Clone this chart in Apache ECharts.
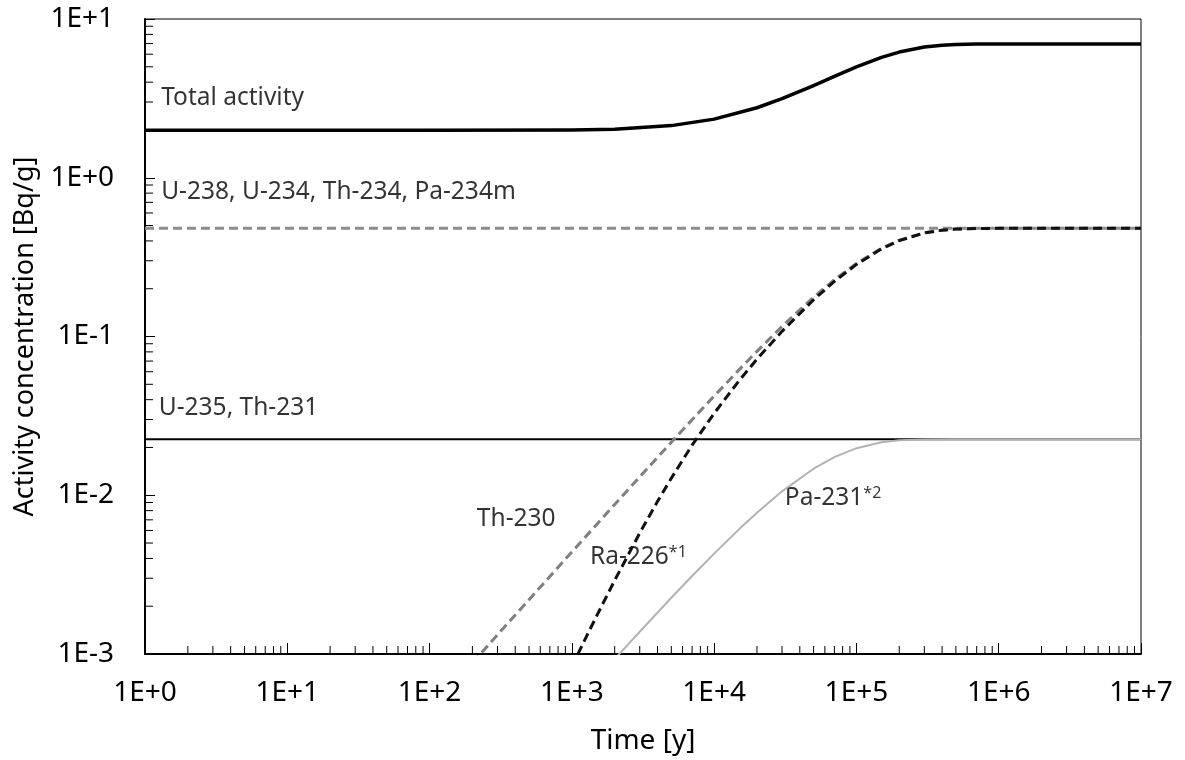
<!DOCTYPE html>
<html>
<head>
<meta charset="utf-8">
<script src="https://cdn.jsdelivr.net/npm/echarts@6/dist/echarts.min.js"></script>
<style>
  html, body { margin: 0; padding: 0; background: #fff; }
  #echarts { width: 1185px; height: 760px; }
</style>
</head>
<body>
<div id="echarts"></div>
<script>
// values (time in years, activity in Bq/g)
const totalTime = [1, 10, 100, 1000, 2000, 5000, 1e4, 2e4, 3e4, 5e4, 7e4, 1e5, 1.5e5, 2e5, 3e5, 4e5, 5e5, 7e5, 1e6, 1e7];
const totalAct  = [1.99, 1.99, 1.99, 2.0, 2.02, 2.13, 2.34, 2.76, 3.15, 3.81, 4.35, 4.99, 5.73, 6.19, 6.66, 6.84, 6.92, 6.96, 6.97, 6.97];

const u238Time = [1, 1e7];
const u238Act  = [0.48, 0.48];

const u235Time = [1, 1e7];
const u235Act  = [0.0225, 0.0225];

const th230Time = [200, 300, 500, 1000, 2000, 3000, 5000, 7000, 1e4, 1.5e4, 2e4, 3e4, 5e4, 7e4, 1e5, 1.5e5, 2e5, 3e5, 4e5, 5e5, 7e5, 1e6, 1e7];
const th230Act  = [0.00088, 0.00132, 0.0022, 0.00439, 0.00875, 0.01306, 0.02157, 0.02992, 0.04217, 0.06184, 0.08063, 0.1157, 0.1769, 0.2278, 0.2886, 0.3592, 0.4037, 0.4496, 0.4679, 0.4752, 0.4792, 0.48, 0.48];

const ra226Time = [1000, 1200, 1500, 2000, 3000, 4000, 5000, 7000, 1e4, 1.5e4, 2e4, 3e4, 5e4, 7e4, 1e5, 1.5e5, 2e5, 3e5, 4e5, 5e5, 7e5, 1e6, 1e7];
const ra226Act  = [0.00083, 0.00117, 0.00175, 0.00291, 0.00578, 0.00915, 0.0128, 0.0207, 0.0328, 0.0528, 0.072, 0.1078, 0.1703, 0.2224, 0.2845, 0.3565, 0.402, 0.449, 0.4676, 0.4751, 0.4792, 0.48, 0.48];

const pa231Time = [2000, 3000, 5000, 7000, 1e4, 1.5e4, 2e4, 3e4, 5e4, 7e4, 1e5, 1.5e5, 2e5, 3e5, 5e5, 1e7];
const pa231Act  = [0.00093, 0.00138, 0.00226, 0.0031, 0.00429, 0.00612, 0.00776, 0.01058, 0.01469, 0.01738, 0.01979, 0.02156, 0.02217, 0.02246, 0.0225, 0.0225];

const xTickLabels = ['1E+0', '1E+1', '1E+2', '1E+3', '1E+4', '1E+5', '1E+6', '1E+7'];
const yTickLabels = ['1E-3', '1E-2', '1E-1', '1E+0', '1E+1'];

// curve labels and where they sit (in data units)
const noteText = ['Total activity', 'U-238, U-234, Th-234, Pa-234m', 'U-235, Th-231', 'Th-230', 'Ra-226{sup|*1}', 'Pa-231{sup|*2}'];
const noteX    = [1.3, 1.3, 1.25, 215, 1340, 31400];
const noteY    = [3.2, 0.815, 0.0355, 0.0071, 0.0041, 0.0096];

const FONT = 'Noto Sans';

let pairs = function (xs, ys) {
    return xs.map((x, i) => [x, ys[i]]);
};

let curve = function (name, xs, ys, color, width, dash) {
    return {
        name: name,
        type: 'line',
        data: pairs(xs, ys),
        showSymbol: false,
        clip: true,
        silent: true,
        lineStyle: { color: color, width: width, type: dash || 'solid', cap: 'butt', join: 'round' }
    };
};

// minor ticks (2..9 within each decade) drawn inside the axes
let minorTicks = function (axis) {
    let data = [];
    let lo = axis === 'x' ? 0 : -3;
    let hi = axis === 'x' ? 7 : 1;
    for (let e = lo; e < hi; e++) {
        for (let m = 2; m <= 9; m++) {
            let v = m * Math.pow(10, e);
            data.push(axis === 'x' ? [v, 1e-3] : [1, v]);
        }
    }
    return {
        type: 'custom',
        silent: true,
        clip: false,
        z: 1,
        data: data,
        renderItem: function (params, api) {
            let p = api.coord([api.value(0), api.value(1)]);
            let shape = axis === 'x'
                ? { x1: p[0], y1: p[1], x2: p[0], y2: p[1] - 8 }
                : { x1: p[0], y1: p[1], x2: p[0] + 8, y2: p[1] };
            return { type: 'line', shape: shape, style: { stroke: '#000', lineWidth: 1 } };
        }
    };
};

let expLabel = function (labels, lowExp) {
    return function (v) {
        let e = Math.round(Math.log10(v));
        return labels[e - lowExp] || '';
    };
};

let option = {
    animation: false,
    backgroundColor: '#fff',
    textStyle: { fontFamily: FONT },
    grid: {
        left: 145, right: 44, top: 19, bottom: 106,
        show: true, borderColor: '#000', borderWidth: 1
    },
    xAxis: {
        type: 'log', logBase: 10, min: 1, max: 1e7, splitNumber: 10,
        name: 'Time [y]', nameLocation: 'middle', nameGap: 73,
        nameTextStyle: { fontFamily: FONT, fontSize: 28, color: '#000' },
        axisLine: { lineStyle: { color: '#000', width: 2 } },
        axisTick: { inside: true, length: 11, lineStyle: { color: '#000', width: 1 } },
        axisLabel: { fontFamily: FONT, fontSize: 28, color: '#000', margin: 25, formatter: expLabel(xTickLabels, 0) },
        splitLine: { show: false }
    },
    yAxis: {
        type: 'log', logBase: 10, min: 1e-3, max: 10, splitNumber: 10,
        name: 'Activity concentration [Bq/g]', nameLocation: 'middle', nameGap: 106,
        nameTextStyle: { fontFamily: FONT, fontSize: 27, color: '#000' },
        axisLine: { lineStyle: { color: '#000', width: 2 } },
        axisTick: { inside: true, length: 10, lineStyle: { color: '#000', width: 1 } },
        axisLabel: { fontFamily: FONT, fontSize: 28, color: '#000', margin: 31, formatter: expLabel(yTickLabels, -3) },
        splitLine: { show: false }
    },
    series: [
        minorTicks('x'),
        minorTicks('y'),
        curve('U-238', u238Time, u238Act, '#8c8c8c', 3, [9, 5]),
        curve('U-235', u235Time, u235Act, '#000', 2),
        curve('Th-230', th230Time, th230Act, '#808080', 3, [9, 5]),
        curve('Ra-226', ra226Time, ra226Act, '#111', 3, [9, 5]),
        curve('Pa-231', pa231Time, pa231Act, '#b3b3b3', 2),
        curve('Total', totalTime, totalAct, '#000', 3.5),
        {
            type: 'scatter',
            silent: true,
            symbolSize: 0,
            data: noteText.map((t, i) => ({ value: [noteX[i], noteY[i]], text: t })),
            label: {
                show: true,
                position: 'right',
                distance: 0,
                fontFamily: FONT,
                fontSize: 24.5,
                color: '#000',
                formatter: function (p) { return p.data.text; },
                rich: {
                    sup: { fontFamily: FONT, fontSize: 16, color: '#000', verticalAlign: 'top' }
                }
            }
        }
    ]
};

let chart = echarts.init(document.getElementById('echarts'));
chart.setOption(option);
</script>
</body>
</html>
